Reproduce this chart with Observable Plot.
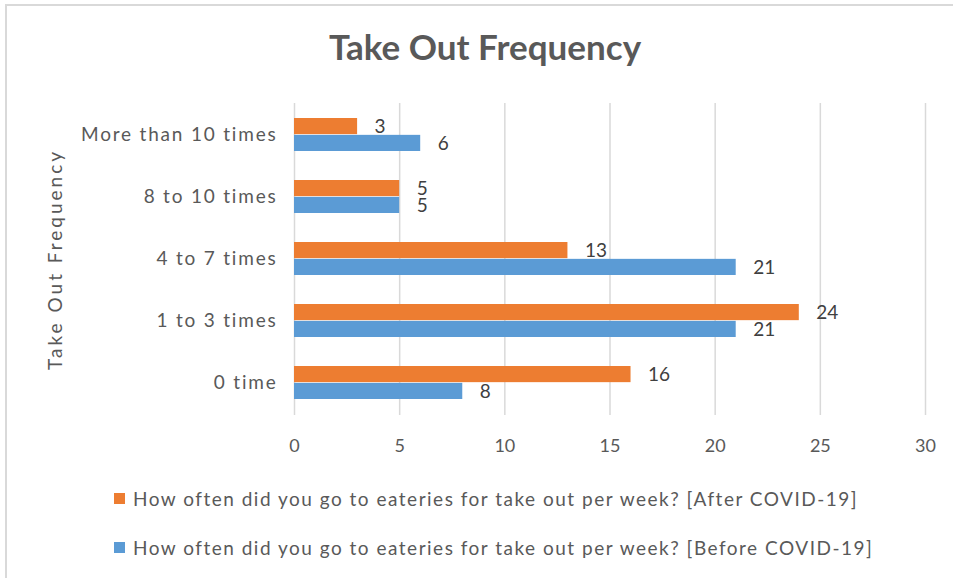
<!DOCTYPE html>
<html>
<head>
<meta charset="utf-8">
<script src="https://cdn.jsdelivr.net/npm/d3@7"></script>
<script src="https://cdn.jsdelivr.net/npm/@observablehq/plot@0.6"></script>
<style>
  html, body { margin: 0; padding: 0; background: #fff; }
  #chart { position: relative; width: 953px; height: 578px; overflow: hidden; font-family: Lato, "Open Sans", sans-serif; color: #595959; }
  #frame { position: absolute; left: 5px; top: 4px; width: 960px; height: 590px; border-left: 2px solid #d9d9d9; border-top: 2px solid #d9d9d9; }
  #title { position: absolute; left: 0; width: 970px; top: 25px; text-align: center; font-size: 35px; font-weight: 700; color: #595959; }
  #plot { position: absolute; left: 0; top: 80px; }
  .legend { position: absolute; left: 114px; font-size: 19px; letter-spacing: 1.5px; color: #595959; display: flex; align-items: center; white-space: nowrap; }
  .legend .sw { width: 11px; height: 11px; margin-right: 8px; }
  #plot svg [aria-label="y-axis tick label"] { letter-spacing: 1.8px; }
  #plot svg [aria-label="y-axis label"] { letter-spacing: 3px; }
</style>
</head>
<body>
<div id="chart">
  <div id="frame"></div>
  <div id="title">Take Out Frequency</div>
  <div id="plot"></div>
  <div id="legend"></div>
</div>
<script>
// Answer categories, top to bottom
const categories = ["More than 10 times", "8 to 10 times", "4 to 7 times", "1 to 3 times", "0 time"];
// Number of respondents per category
const afterCovid = [3, 5, 13, 24, 16];
const beforeCovid = [6, 5, 21, 21, 8];
const seriesNames = [
  "How often did you go to eateries for take out per week? [After COVID-19]",
  "How often did you go to eateries for take out per week? [Before COVID-19]"
];
const seriesColors = ["#ED7D31", "#5B9BD5"];
const xTicks = [0, 5, 10, 15, 20, 25, 30];

const rows = [];
categories.forEach((c, i) => {
  rows.push({category: c, series: seriesNames[0], value: afterCovid[i], half: "upper"});
  rows.push({category: c, series: seriesNames[1], value: beforeCovid[i], half: "lower"});
});

const width = 953, height = 410;
const marginTop = 23, marginBottom = 75, marginLeft = 294, marginRight = 28;
const padInner = 0.46;
const step = (height - marginTop - marginBottom) / categories.length;
const halfBand = step * (1 - padInner) / 2;

const upperRows = rows.filter(d => d.half === "upper");
const lowerRows = rows.filter(d => d.half === "lower");

const chart = Plot.plot({
  width, height, marginTop, marginBottom, marginLeft, marginRight,
  style: {fontFamily: "Lato, 'Open Sans', sans-serif", fontSize: "19px", color: "#595959", background: "transparent"},
  x: {domain: [0, 30]},
  y: {domain: categories, paddingInner: padInner, paddingOuter: padInner / 2},
  color: {domain: seriesNames, range: seriesColors},
  marks: [
    Plot.gridX(xTicks, {stroke: "#d9d9d9", strokeOpacity: 1, strokeWidth: 1.5}),
    Plot.barX(upperRows, {x: "value", y: "category", fill: "series", insetBottom: halfBand}),
    Plot.barX(lowerRows, {x: "value", y: "category", fill: "series", insetTop: halfBand}),
    Plot.text(upperRows, {x: "value", y: "category", text: d => String(d.value), dy: -halfBand / 2, dx: 17, textAnchor: "start", fill: "#404040", fontSize: 19}),
    Plot.text(lowerRows, {x: "value", y: "category", text: d => String(d.value), dy: halfBand / 2, dx: 17, textAnchor: "start", fill: "#404040", fontSize: 19}),
    Plot.axisX(xTicks, {tickSize: 0, tickPadding: 24, label: null, fill: "#595959", fontSize: 18}),
    Plot.axisY({tickSize: 0, tickPadding: 17, label: "Take Out Frequency", labelAnchor: "center", labelOffset: 246, fill: "#595959", fontSize: 19})
  ]
});
document.getElementById("plot").appendChild(chart);

const legend = document.getElementById("legend");
const legendTops = [487, 536];
seriesNames.forEach((name, i) => {
  const row = document.createElement("div");
  row.className = "legend";
  row.style.top = legendTops[i] + "px";
  const sw = document.createElement("span");
  sw.className = "sw";
  sw.style.background = seriesColors[i];
  const label = document.createElement("span");
  label.textContent = name;
  row.appendChild(sw);
  row.appendChild(label);
  legend.appendChild(row);
});
</script>
</body>
</html>
